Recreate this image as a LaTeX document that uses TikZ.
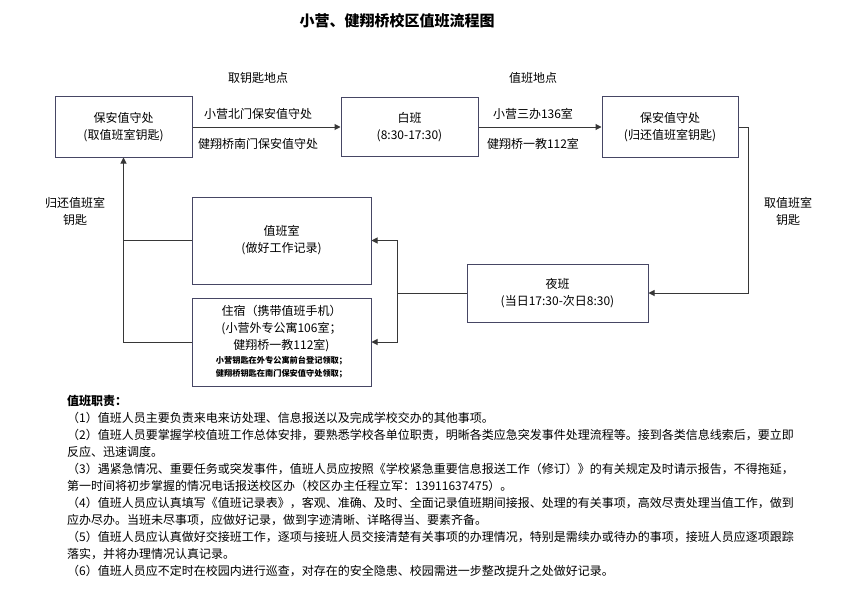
\documentclass[tikz,border=0pt]{standalone}
\usepackage{fontspec}
\setmainfont{Noto Sans CJK SC}
\usetikzlibrary{arrows.meta}
\definecolor{boxc}{RGB}{70,70,100}
\definecolor{linec}{RGB}{55,55,55}
\begin{document}
\begin{tikzpicture}[x=1pt,y=-1pt,
  box/.style={draw=boxc, line width=1pt, fill=white, align=center, inner sep=0pt, font=\fontsize{12}{17}\selectfont},
  lab/.style={align=center, inner sep=0pt, font=\fontsize{12}{17}\selectfont},
  para/.style={anchor=west, inner sep=0pt, font=\fontsize{12}{17}\selectfont},
  conn/.style={draw=linec, line width=1pt},
  arr/.style={conn, -{Triangle[length=6pt,width=6pt]}}]
\useasboundingbox[fill=white] (0,0) rectangle (842,607);

\node[lab, font=\bfseries\fontsize{15}{18}\selectfont] (title) at (397,21) {小营、健翔桥校区值班流程图};

\node[box, minimum width=137pt, minimum height=60pt] (b1) at (123.5,127) {保安值守处\\(取值班室钥匙)};
\node[box, minimum width=137pt, minimum height=59pt] (b2) at (409.5,127) {白班\\(8:30-17:30)};
\node[box, minimum width=136pt, minimum height=60pt] (b3) at (670,127) {保安值守处\\(归还值班室钥匙)};
\node[box, minimum width=181pt, minimum height=58pt] (night) at (557.5,293) {夜班\\(当日17:30-次日8:30)};
\node[box, minimum width=179pt, minimum height=87pt] (duty) at (281.5,240.5) {值班室\\(做好工作记录)};
\node[box, minimum width=179pt, minimum height=88pt] (sleep) at (281.5,342) {住宿（携带值班手机）\\(小营外专公寓106室；\\健翔桥一教112室)\\[-3pt]
  {\bfseries\fontsize{8.2}{12}\selectfont 小营钥匙在外专公寓前台登记领取；}\\[-4pt]
  {\bfseries\fontsize{8.2}{12}\selectfont 健翔桥钥匙在南门保安值守处领取；}};

\node[lab] (k1) at (258,78) {取钥匙地点};
\node[lab] (k2) at (533,78) {值班地点};
\node[lab] (k3) at (258,114) {小营北门保安值守处};
\node[lab] (k4) at (258,144) {健翔桥南门保安值守处};
\node[lab] (k5) at (533,114) {小营三办136室};
\node[lab] (k6) at (533,144) {健翔桥一教112室};
\node[lab] (k7) at (75,211) {归还值班室\\钥匙};
\node[lab] (k8) at (788,211) {取值班室\\钥匙};

\draw[arr] (b1.east) -- (b2.west);
\draw[arr] (b2.east) -- (b3.west);
\coordinate (rc) at (748,127);
\draw[arr] (b3.east) -- (rc) |- (night.east);
\coordinate (split) at (397,293);
\draw[conn] (night.west) -- (split);
\draw[arr] (split) |- (duty.east);
\draw[arr] (split) |- (sleep.east);
\draw[arr] (sleep.west) -| (b1.south);
\draw[conn] (duty.west) -- (duty.west -| b1.south);

\node[para, font=\bfseries\fontsize{12}{17}\selectfont] (p0) at (67,401) {值班职责：};
\node[para] (p1) at (67,418) {（1）值班人员主要负责来电来访处理、信息报送以及完成学校交办的其他事项。};
\node[para] (p2) at (67,435) {（2）值班人员要掌握学校值班工作总体安排，要熟悉学校各单位职责，明晰各类应急突发事件处理流程等。接到各类信息线索后，要立即};
\node[para] (p3) at (67,452) {反应、迅速调度。};
\node[para] (p4) at (67,469) {（3）遇紧急情况、重要任务或突发事件，值班人员应按照《学校紧急重要信息报送工作（修订）》的有关规定及时请示报告，不得拖延，};
\node[para] (p5) at (67,486) {第一时间将初步掌握的情况电话报送校区办（校区办主任程立军：13911637475）。};
\node[para] (p6) at (67,503) {（4）值班人员应认真填写《值班记录表》，客观、准确、及时、全面记录值班期间接报、处理的有关事项，高效尽责处理当值工作，做到};
\node[para] (p7) at (67,520) {应办尽办。当班未尽事项，应做好记录，做到字迹清晰、详略得当、要素齐备。};
\node[para] (p8) at (67,537) {（5）值班人员应认真做好交接班工作，逐项与接班人员交接清楚有关事项的办理情况，特别是需续办或待办的事项，接班人员应逐项跟踪};
\node[para] (p9) at (67,554) {落实，并将办理情况认真记录。};
\node[para] (p10) at (67,571) {（6）值班人员应不定时在校园内进行巡查，对存在的安全隐患、校园需进一步整改提升之处做好记录。};
\end{tikzpicture}
\end{document}
